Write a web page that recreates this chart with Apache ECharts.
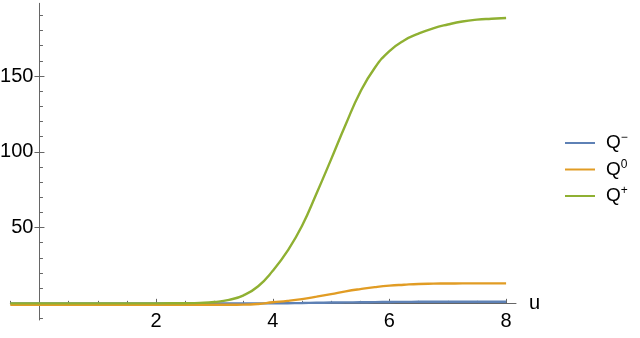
<!DOCTYPE html>
<html>
<head>
<meta charset="utf-8">
<script src="https://cdn.jsdelivr.net/npm/echarts@6/dist/echarts.min.js"></script>
<style>
  html, body { margin: 0; padding: 0; background: #fff; }
  #chart { width: 640px; height: 338px; }
</style>
</head>
<body>
<div id="chart"></div>
<script>
// values
var uValues = [-0.5, 0, 0.5, 1, 1.5, 2, 2.5, 2.75, 3, 3.25, 3.5, 3.75, 4, 4.25, 4.5, 4.75, 5, 5.25, 5.5, 5.75, 6, 6.25, 6.5, 6.75, 7, 7.25, 7.5, 7.75, 8];
var qMinus = [0, 0, 0, 0, 0, 0, 0, 0, 0, 0, 0, 0, 0, 0.1, 0.2, 0.35, 0.5, 0.6, 0.7, 0.8, 0.9, 0.95, 1, 1, 1, 1, 1, 1, 1];
var qZero = [-0.9, -0.9, -0.9, -0.9, -0.9, -0.9, -0.9, -0.9, -0.9, -0.9, -0.85, -0.4, 0.7, 1.6, 2.8, 4.4, 6.1, 7.9, 9.4, 10.7, 11.7, 12.3, 12.8, 13, 13.1, 13.15, 13.2, 13.2, 13.2];
var qPlus = [0, 0, 0, 0, 0, 0, 0.1, 0.3, 0.9, 2.3, 5.3, 11.3, 21.5, 34.5, 51, 72.5, 95, 118, 139.5, 155.5, 166.5, 173.5, 178, 181.5, 184, 186, 187.2, 187.8, 188.3];

var seriesNames = ['Q−', 'Q0', 'Q+'];
var seriesColors = ['#5E81B5', '#E19C24', '#8FB032'];
var legendSup = { 'Q−': '−', 'Q0': '0', 'Q+': '+' };

var xMinorTicks = [];
for (var i = -0.5; i <= 8; i += 0.5) xMinorTicks.push(i);
var xMajorTicks = [2, 4, 6, 8];
var yMinorTicks = [];
for (var j = -10; j <= 190; j += 10) yMinorTicks.push(j);
var yMajorTicks = [50, 100, 150];

var FONT = '"Liberation Sans", Arial, sans-serif';
var axisColor = '#666';
var GRID = { left: 10.3, right: 124, top: 3.3, bottom: 18 };

function pairs(ys) {
  return uValues.map(function (u, k) { return [u, ys[k]]; });
}

// extra axes only carry major ticks / labels; they sit on the grid edge and get shifted onto zero below
var hiddenLine = { show: false, onZero: false };

function xAxisBase(extra) {
  return Object.assign({
    type: 'value',
    min: -0.5,
    max: 8.17,
    position: 'bottom',
    splitLine: { show: false },
    axisLine: { onZero: true, lineStyle: { color: axisColor, width: 1 } }
  }, extra);
}

function yAxisBase(extra) {
  return Object.assign({
    type: 'value',
    min: -11,
    max: 198,
    position: 'left',
    splitLine: { show: false },
    axisLine: { onZero: true, lineStyle: { color: axisColor, width: 1 } }
  }, extra);
}

var chart = echarts.init(document.getElementById('chart'), null, { renderer: 'canvas' });

chart.setOption({
  animation: false,
  backgroundColor: '#fff',
  grid: Object.assign({ containLabel: false, outerBoundsMode: 'none' }, GRID),
  legend: {
    orient: 'vertical',
    left: 564,
    top: 132,
    padding: 0,
    itemWidth: 30,
    itemHeight: 14,
    itemGap: 6,
    data: seriesNames,
    itemStyle: { opacity: 0 },
    formatter: function (name) {
      return '{q|Q}{s|' + legendSup[name] + '}';
    },
    textStyle: {
      padding: [0, 0, 0, 6],
      rich: {
        q: { fontSize: 19, fontFamily: FONT, color: '#000', lineHeight: 22 },
        s: { fontSize: 12, fontFamily: FONT, color: '#000', verticalAlign: 'top', lineHeight: 14 }
      }
    }
  },
  xAxis: [
    xAxisBase({
      name: 'u',
      nameLocation: 'end',
      nameGap: 13,
      nameTextStyle: { fontSize: 20, fontFamily: FONT, color: '#000' },
      axisTick: { show: true, inside: true, length: 2.5, customValues: xMinorTicks, lineStyle: { color: axisColor } },
      axisLabel: { show: false }
    }),
    xAxisBase({
      axisLine: hiddenLine,
      axisTick: { show: true, inside: true, length: 4.5, customValues: xMajorTicks, lineStyle: { color: axisColor } },
      axisLabel: { show: true, customValues: xMajorTicks, margin: 8, fontSize: 20, fontFamily: FONT, color: '#000' }
    })
  ],
  yAxis: [
    yAxisBase({
      axisTick: { show: true, inside: true, length: 3.5, customValues: yMinorTicks, lineStyle: { color: axisColor } },
      axisLabel: { show: false }
    }),
    yAxisBase({
      axisLine: hiddenLine,
      axisTick: { show: true, inside: true, length: 5, customValues: yMajorTicks, lineStyle: { color: axisColor } },
      axisLabel: { show: true, customValues: yMajorTicks, margin: 6, fontSize: 20, fontFamily: FONT, color: '#000' }
    }),
    yAxisBase({
      axisLine: hiddenLine,
      axisTick: { show: true, inside: false, length: 5, customValues: yMajorTicks, lineStyle: { color: axisColor } },
      axisLabel: { show: false }
    })
  ],
  series: [qMinus, qZero, qPlus].map(function (ys, k) {
    return {
      name: seriesNames[k],
      type: 'line',
      xAxisIndex: 0,
      yAxisIndex: 0,
      data: pairs(ys),
      smooth: 0.5,
      showSymbol: false,
      symbol: 'none',
      color: seriesColors[k],
      lineStyle: { width: 2.4, color: seriesColors[k] },
      z: 2 + k
    };
  })
});

// move the extra axes from the grid edge onto the zero lines
var zero = chart.convertToPixel({ xAxisIndex: 0, yAxisIndex: 0 }, [0, 0]);
var xOff = zero[1] - (338 - GRID.bottom);
var yOff = GRID.left - zero[0];
chart.setOption({
  xAxis: [{}, { offset: xOff }],
  yAxis: [{}, { offset: yOff }, { offset: yOff }]
});
</script>
</body>
</html>
